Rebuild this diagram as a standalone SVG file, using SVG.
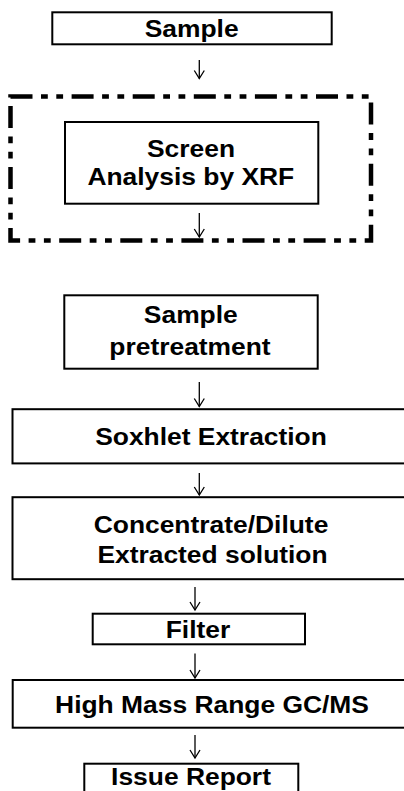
<svg xmlns="http://www.w3.org/2000/svg" width="404" height="791" viewBox="0 0 404 791">
<style>
.box{fill:#fff;stroke:#000;stroke-width:2}
.dash{fill:none;stroke:#000;stroke-width:4.5;stroke-dasharray:22 8.5 6.8 8.5 6.8 8.5}
.t{font-family:"Liberation Sans",Arial,sans-serif;font-weight:bold;font-size:24px;text-anchor:middle;fill:#000}
.c{fill:none;stroke:#000;stroke-width:1.3}
</style>
<defs>
<marker id="ah" markerWidth="12" markerHeight="12" refX="9" refY="6" orient="auto" markerUnits="userSpaceOnUse" viewBox="0 0 12 12">
<path d="M1,1 L9,6 L1,11" fill="none" stroke="#000" stroke-width="1.3"/>
</marker>
</defs>
<rect x="0" y="0" width="404" height="791" fill="#fff"/>
<g id="xrf-frame"><rect class="dash" x="10.5" y="96.5" width="360.5" height="144"/></g>
<g id="sample"><rect class="box" x="52.3" y="12.3" width="279.4" height="32"/><text class="t" transform="translate(191.7,36.7) scale(1.1,1)">Sample</text></g>
<g id="screen"><rect class="box" x="65" y="122" width="253.3" height="81.7"/><text class="t" transform="translate(191,156.7) scale(1.1,1)">Screen</text><text class="t" transform="translate(190.8,185) scale(1.1,1)">Analysis by XRF</text></g>
<g id="pretreatment"><rect class="box" x="64.3" y="295.3" width="253.4" height="73.4"/><text class="t" transform="translate(190.8,323.3) scale(1.1,1)">Sample</text><text class="t" transform="translate(190,355) scale(1.1,1)">pretreatment</text></g>
<g id="soxhlet"><rect class="box" x="12.5" y="409.2" width="420" height="54.2"/><text class="t" transform="translate(211,445) scale(1.1,1)">Soxhlet Extraction</text></g>
<g id="concentrate"><rect class="box" x="12.5" y="497.2" width="420" height="82"/><text class="t" transform="translate(211,533) scale(1.1,1)">Concentrate/Dilute</text><text class="t" transform="translate(212.5,563.3) scale(1.1,1)">Extracted solution</text></g>
<g id="filter"><rect class="box" x="92.7" y="613.7" width="212.3" height="30.6"/><text class="t" transform="translate(198,638.3) scale(1.1,1)">Filter</text></g>
<g id="gcms"><rect class="box" x="12.7" y="680" width="420" height="47.7"/><text class="t" transform="translate(212,713.3) scale(1.1,1)">High Mass Range GC/MS</text></g>
<g id="report"><rect class="box" x="84.3" y="763.7" width="214" height="40"/><text class="t" transform="translate(191,785) scale(1.1,1)">Issue Report</text></g>
<g id="connectors">
<path class="c" d="M199.3,60 V78.5" marker-end="url(#ah)"/>
<path class="c" d="M199.3,213 V237" marker-end="url(#ah)"/>
<path class="c" d="M199.3,382 V406.5" marker-end="url(#ah)"/>
<path class="c" d="M199.3,473 V495" marker-end="url(#ah)"/>
<path class="c" d="M195,587 V610" marker-end="url(#ah)"/>
<path class="c" d="M195,653.5 V678" marker-end="url(#ah)"/>
<path class="c" d="M195,735 V758" marker-end="url(#ah)"/>
</g>
</svg>
